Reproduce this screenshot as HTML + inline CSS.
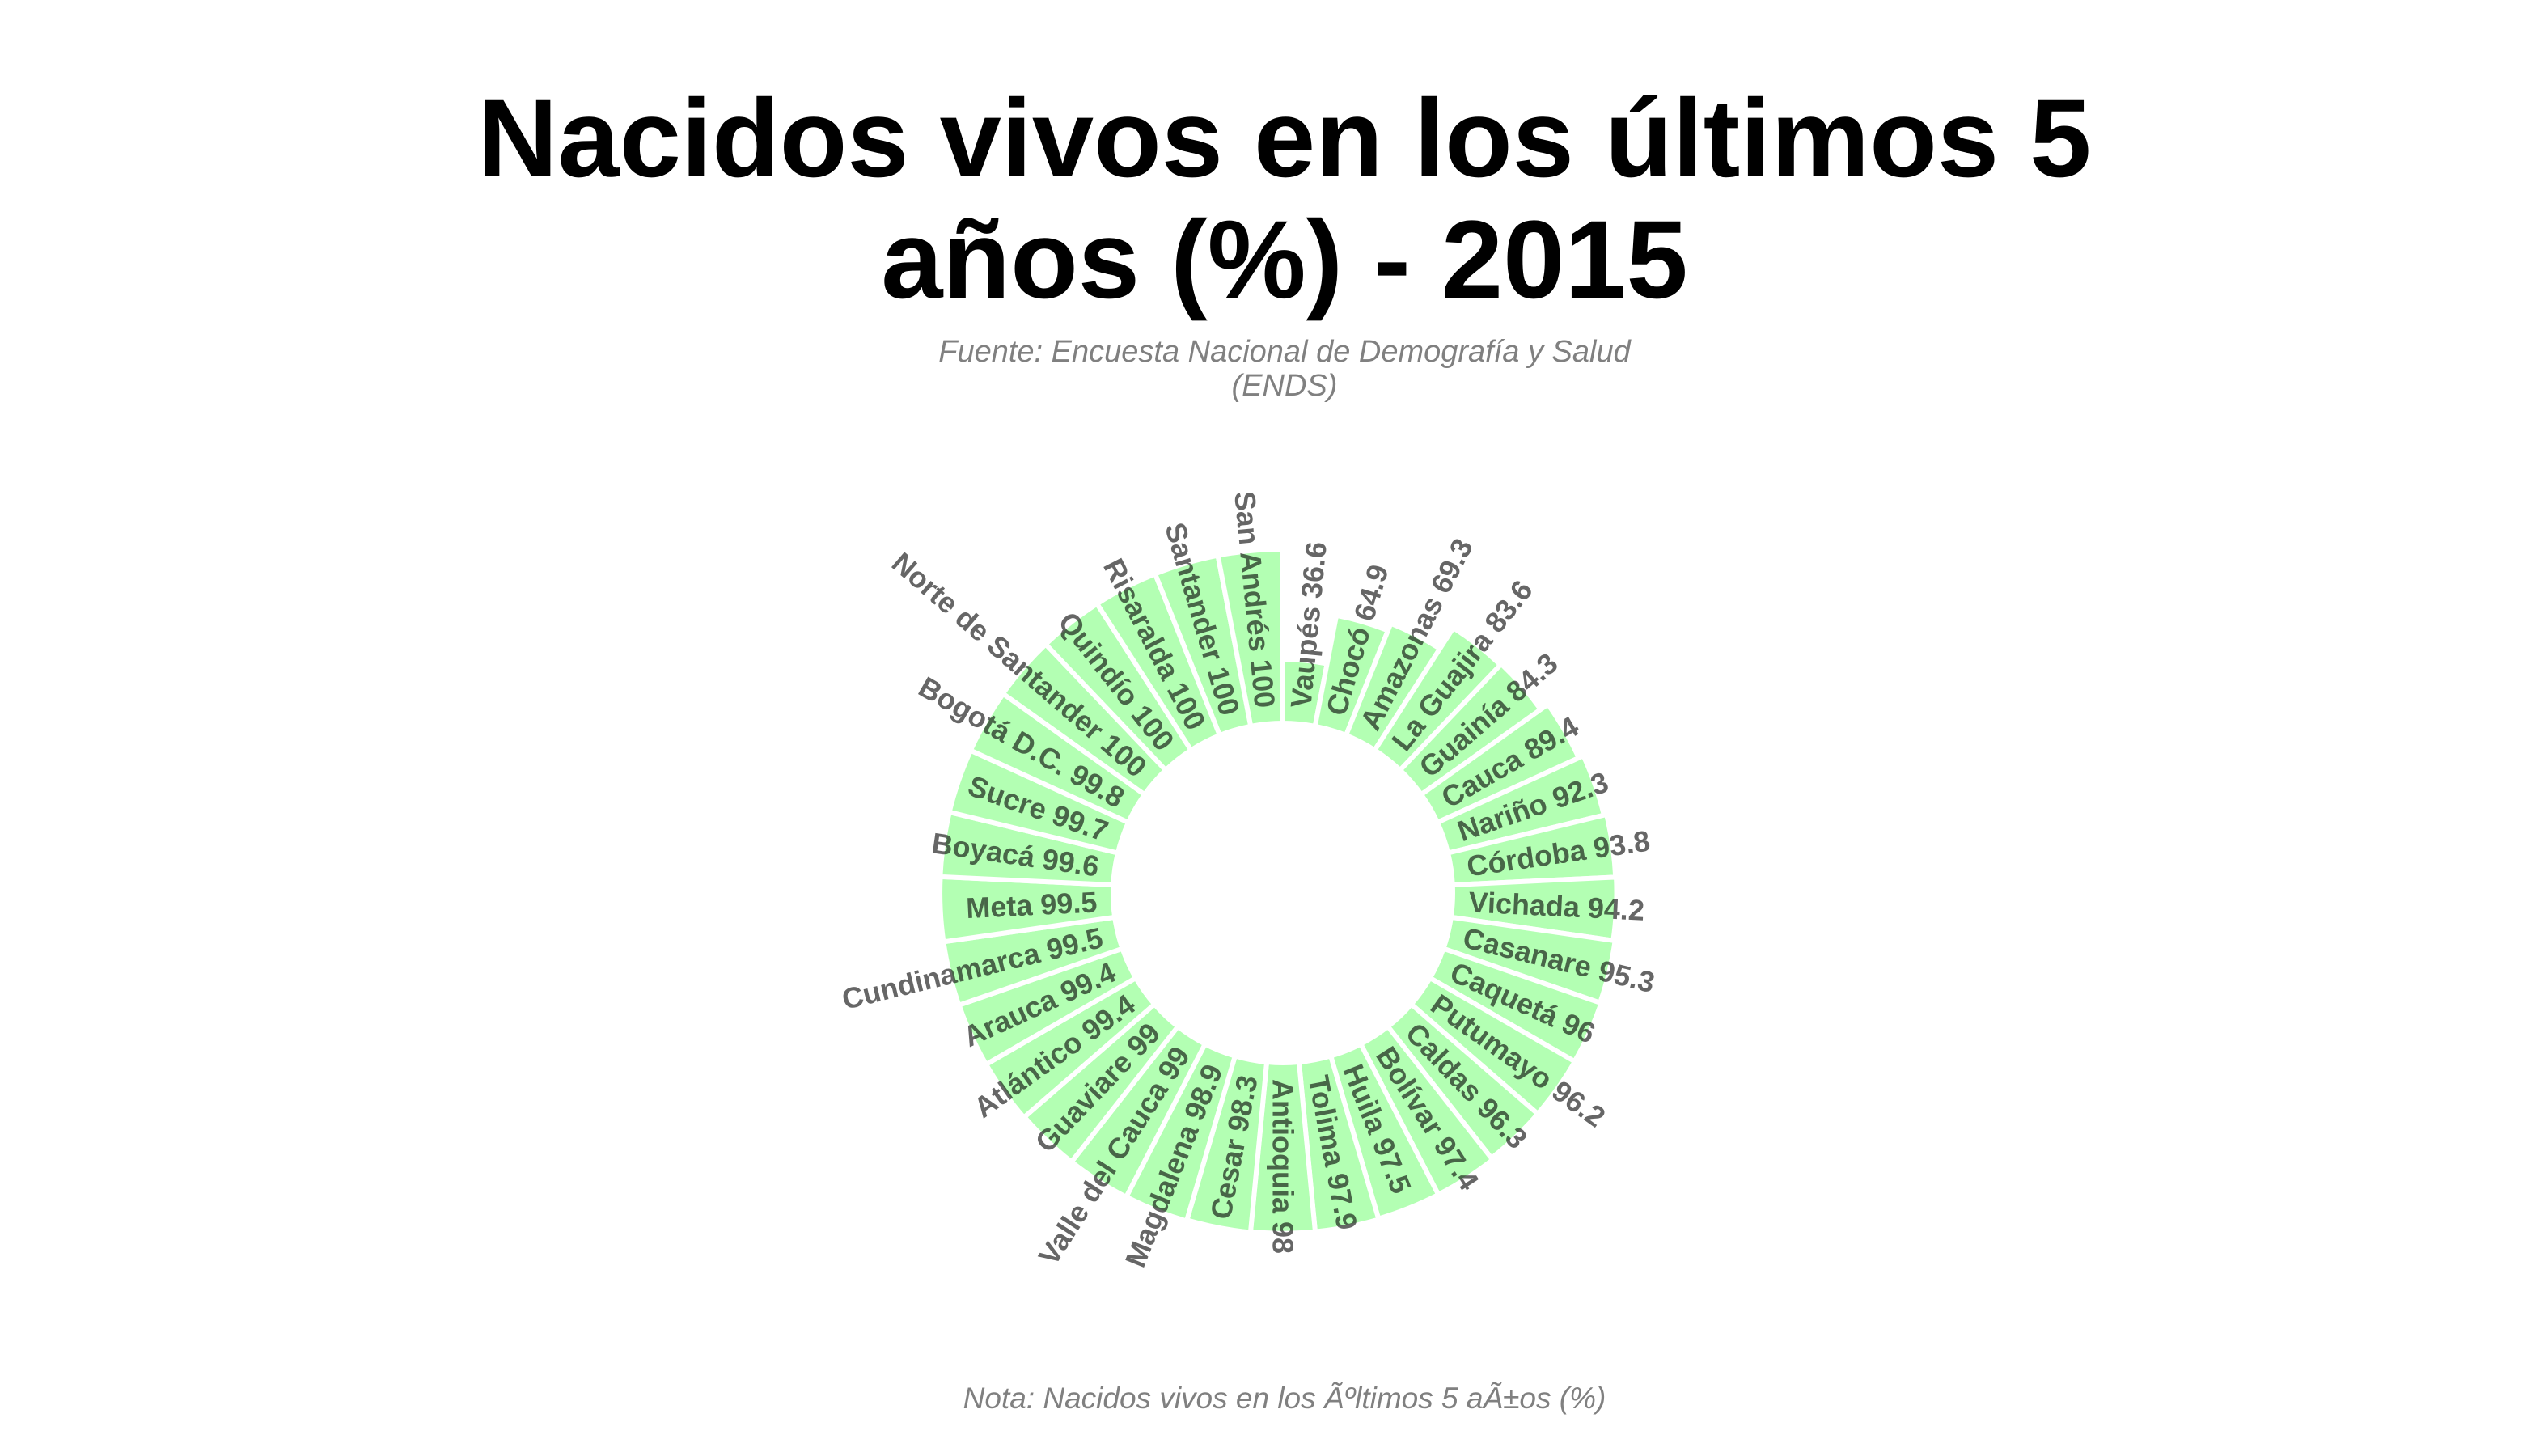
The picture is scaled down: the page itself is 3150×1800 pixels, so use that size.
<!DOCTYPE html>
<html><head><meta charset="utf-8">
<style>
html,body{margin:0;padding:0;background:#fff;}
svg{display:block;}
</style></head>
<body>
<svg id="chart" width="3150" height="1800" viewBox="0 0 3150 1800" xmlns="http://www.w3.org/2000/svg">
  <rect width="3150" height="1800" fill="#fff"/>
  <text x="1588" text-anchor="middle" font-family="Liberation Sans, sans-serif" font-weight="bold" font-size="137" fill="#000"><tspan x="1588" y="218">Nacidos vivos en los últimos 5</tspan><tspan x="1588" y="368">años (%) - 2015</tspan></text>
  <text text-anchor="middle" font-family="Liberation Sans, sans-serif" font-style="italic" font-size="38" fill="#808080"><tspan x="1588" y="447">Fuente: Encuesta Nacional de Demografía y Salud</tspan><tspan x="1588" y="489">(ENDS)</tspan></text>
  <text x="1588" y="1741" text-anchor="middle" font-family="Liberation Sans, sans-serif" font-style="italic" font-size="37" fill="#808080">Nota: Nacidos vivos en los Ãºltimos 5 aÃ±os (%)</text>
  <g id="bars"></g>
  <g id="labels"></g>
</svg>
<script>
const categories = ["Vaupés","Chocó","Amazonas","La Guajira","Guainía","Cauca","Nariño","Córdoba","Vichada","Casanare","Caquetá","Putumayo","Caldas","Bolívar","Huila","Tolima","Antioquia","Cesar","Magdalena","Valle del Cauca","Guaviare","Atlántico","Arauca","Cundinamarca","Meta","Boyacá","Sucre","Bogotá D.C.","Norte de Santander","Quindío","Risaralda","Santander","San Andrés"];
const values = [36.6,64.9,69.3,83.6,84.3,89.4,92.3,93.8,94.2,95.3,96,96.2,96.3,97.4,97.5,97.9,98,98.3,98.9,99,99,99.4,99.4,99.5,99.5,99.6,99.7,99.8,100,100,100,100,100];

const cx = 1586, cy = 1104, r0 = 210, k = 2.15, labelR = 230;
const n = categories.length;
const NS = "http://www.w3.org/2000/svg";
const rScale = v => r0 + k * v;
const aScale = i => i * 360 / n;
function pt(r, deg) { const a = deg * Math.PI / 180; return [cx + r * Math.sin(a), cy - r * Math.cos(a)]; }

const barsG = document.getElementById('bars');
const labelsG = document.getElementById('labels');
for (let i = 0; i < n; i++) {
  const a0 = aScale(i), a1 = aScale(i + 1), r1 = rScale(values[i]);
  const p1 = pt(r0, a0), p2 = pt(r1, a0), p3 = pt(r1, a1), p4 = pt(r0, a1);
  const path = document.createElementNS(NS, 'path');
  path.setAttribute('d', `M${p1} L${p2} A${r1} ${r1} 0 0 1 ${p3} L${p4} A${r0} ${r0} 0 0 0 ${p1} Z`);
  path.setAttribute('fill', '#b3ffb3');
  path.setAttribute('stroke', '#fff');
  path.setAttribute('stroke-width', '6');
  
  
  barsG.appendChild(path);

  const mid = (a0 + a1) / 2;
  const p = pt(labelR, mid);
  const t = document.createElementNS(NS, 'text');
  let rot, anchor;
  if (i + 0.5 <= n / 2) { rot = mid - 90; anchor = 'start'; } else { rot = mid + 90; anchor = 'end'; }
  t.setAttribute('x', p[0]);
  t.setAttribute('y', p[1]);
  t.setAttribute('text-anchor', anchor);
  t.setAttribute('dominant-baseline', 'central');
  t.setAttribute('transform', `rotate(${rot} ${p[0]} ${p[1]})`);
  t.setAttribute('font-family', 'Liberation Sans, sans-serif');
  t.setAttribute('font-weight', 'bold');
  t.setAttribute('font-size', '36');
  t.setAttribute('fill', 'rgba(0,0,0,0.6)');
  t.textContent = categories[i] + ' ' + values[i];
  
  
  labelsG.appendChild(t);
}
</script>
</body></html>
